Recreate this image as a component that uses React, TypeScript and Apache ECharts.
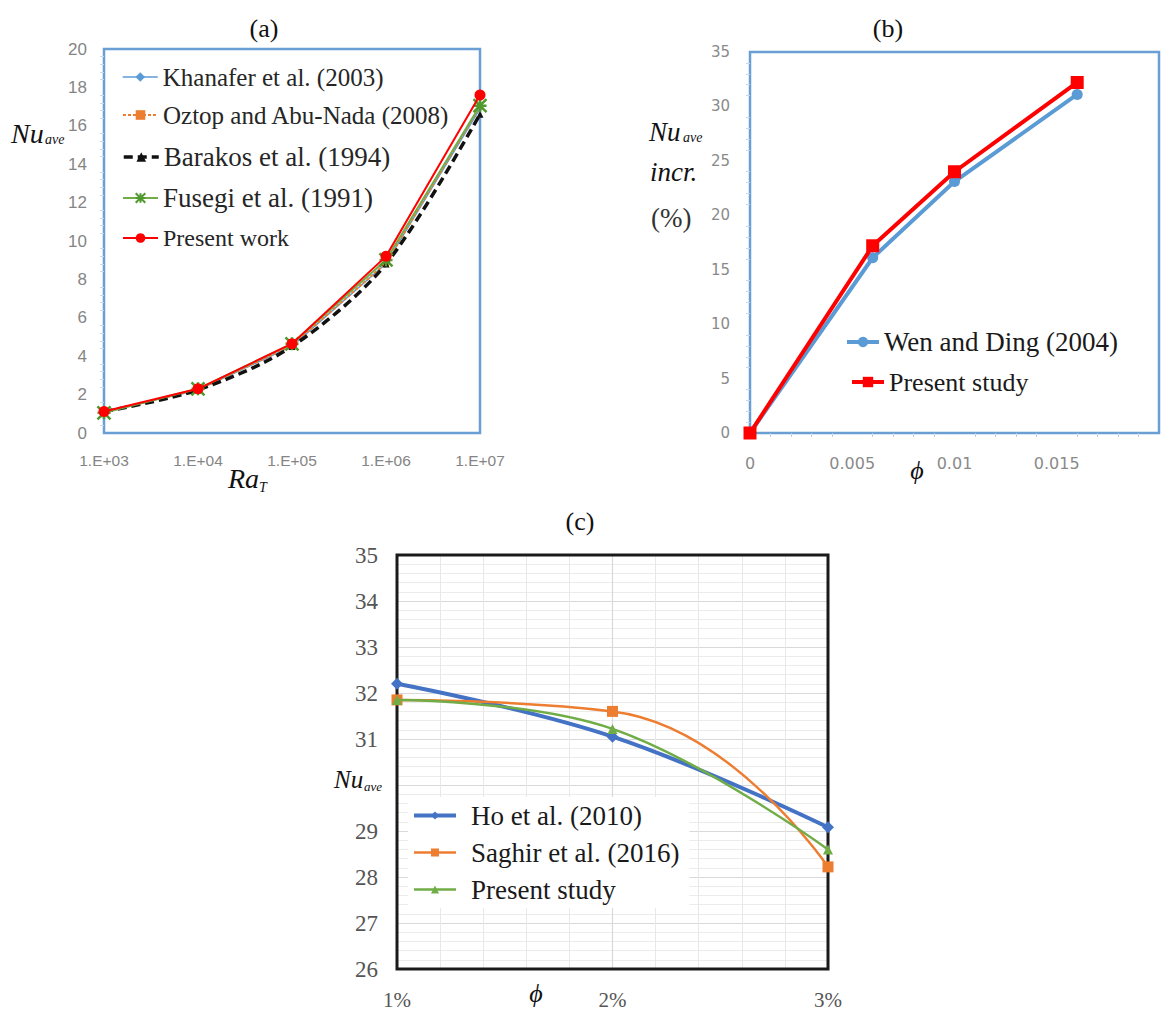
import React, { useEffect, useRef } from "react";
import * as echarts from "echarts";

// Panel (a)
const raT = [1e3, 1e4, 1e5, 1e6, 1e7];
const khanafer = [1.118, 2.245, 4.522, 8.826, 16.9];
const oztop = [1.1, 2.25, 4.55, 8.85, 17.0];
const barakos = [1.114, 2.245, 4.51, 8.806, 16.6];
const fusegi = [1.052, 2.302, 4.646, 9.012, 17.05];
const presentA = [1.12, 2.3, 4.65, 9.2, 17.6];
const namesA = [
  "Khanafer et al. (2003)",
  "Oztop and Abu-Nada (2008)",
  "Barakos et al. (1994)",
  "Fusegi et al. (1991)",
  "Present work",
];

// Panel (b)
const phiB = [0, 0.006, 0.01, 0.016];
const wenDing = [0, 16.1, 23.1, 31.1];
const presentB = [0, 17.2, 24.0, 32.2];
const namesB = ["Wen and Ding (2004)", "Present study"];

// Panel (c)
const phiC = [1, 2, 3];
const ho = [32.2, 31.05, 29.08];
const saghir = [31.85, 31.6, 28.22];
const presentC = [31.85, 31.22, 28.6];
const namesC = ["Ho et al. (2010)", "Saghir et al. (2016)", "Present study"];
const C_SUFFIX = " [c]";

const zip = (xs: number[], ys: number[]) => xs.map((x, i) => [x, ys[i]]);

const SERIF = '"Liberation Serif", "DejaVu Serif", serif';
const SANS = '"Liberation Sans", Arial, sans-serif';
const DEJAVU = '"DejaVu Sans", sans-serif';
const STAR = "path://M0 0L10 10M10 0L0 10M5 0L5 10M0 5L10 5";

function txt(text: string, x: number, y: number, size: number, italic = false, align = "center", fill = "#111") {
  return {
    type: "text",
    x,
    y,
    z: 100,
    style: {
      text,
      font: `${italic ? "italic " : ""}${size}px ${SERIF}`,
      fill,
      align,
      verticalAlign: "middle",
      textAlign: align,
      textVerticalAlign: "middle",
    },
  };
}

export default function App() {
  const ref = useRef<HTMLDivElement>(null);
  useEffect(() => {
    if (!ref.current) return;
    const chart = echarts.init(ref.current, undefined, { renderer: "svg" });
    const blue = "#6A9FD6";
    const sizesA = [25, 25, 27, 27, 24];
    const lineWA = [1.5, 2, 3.5, 2, 2];
    const legendA = namesA.map((n, i) => ({
      data: [n],
      orient: "horizontal",
      left: 122,
      top: [77, 115, 157, 198, 238][i] - sizesA[i] / 2,
      padding: 0,
      itemWidth: 35,
      itemHeight: 12,
      lineStyle: { width: lineWA[i] },
      textStyle: { fontFamily: SERIF, fontSize: sizesA[i], color: "#262626" },
    }));
    const sizesB = [27, 26];
    const legendB = namesB.map((n, i) => ({
      data: [n],
      left: [845, 850][i],
      top: [342, 382][i] - sizesB[i] / 2,
      padding: 0,
      itemWidth: 32,
      itemHeight: 13,
      lineStyle: { width: 4 },
      textStyle: { fontFamily: SERIF, fontSize: sizesB[i], color: "#1a1a1a" },
    }));
    const lineWC = [4, 2.5, 2.5];
    const legendC = {
      data: namesC.map((n, i) => ({ name: n + C_SUFFIX, lineStyle: { width: lineWC[i] } })),
      formatter: (name: string) => name.replace(C_SUFFIX, ""),
      orient: "vertical",
      left: 408,
      top: 797,
      padding: [5, 10, 5, 4],
      backgroundColor: "#ffffff",
      itemGap: 10,
      itemWidth: 42,
      itemHeight: 10,
      textStyle: { fontFamily: SERIF, fontSize: 27, color: "#1a1a1a", padding: [0, 0, 0, 10] },
    };

    const option: any = {
      animation: false,
      backgroundColor: "#ffffff",
      grid: [
        { left: 104, top: 49, width: 376, height: 384, show: true, borderColor: blue, borderWidth: 2.5 },
        { left: 750, top: 52, width: 416, height: 381, show: true, borderColor: blue, borderWidth: 2.5 },
        { left: 397, top: 555, width: 431, height: 415, show: true, borderColor: "#1a1a1a", borderWidth: 3, z: 3 },
      ],
      legend: [...legendA, ...legendB, legendC],
      xAxis: [
        {
          gridIndex: 0,
          type: "log",
          logBase: 10,
          min: 1e3,
          max: 1e7,
          axisLine: { show: false },
          axisTick: { show: false },
          splitLine: { show: false },
          axisLabel: {
            margin: 19,
            color: "#858585",
            fontFamily: SANS,
            fontSize: 15.5,
            formatter: (v: number) => "1.E+" + String(Math.round(Math.log10(v))).padStart(2, "0"),
          },
        },
        {
          gridIndex: 1,
          type: "value",
          min: 0,
          max: 0.02,
          interval: 0.005,
          axisLine: { show: false },
          axisTick: { show: false },
          minorTick: { show: true, splitNumber: 5, length: 4, lineStyle: { color: "#b8cfe8" } },
          splitLine: { show: false },
          axisLabel: {
            margin: 22,
            color: "#8a8a8a",
            fontFamily: DEJAVU,
            fontSize: 16,
            formatter: (v: number) => (v >= 0.0199 ? "" : String(Math.round(v * 1000) / 1000)),
          },
        },
        {
          gridIndex: 2,
          type: "value",
          min: 1,
          max: 3,
          interval: 1,
          axisLine: { show: false },
          axisTick: { show: false },
          splitLine: { show: true, lineStyle: { color: "#d9d9d9", width: 1.2 } },
          minorTick: { show: false, splitNumber: 5 },
          minorSplitLine: { show: true, lineStyle: { color: "#e8e8e8" } },
          axisLabel: {
            margin: 20,
            color: "#555",
            fontFamily: SERIF,
            fontSize: 21,
            formatter: (v: number) => v + "%",
          },
        },
      ],
      yAxis: [
        {
          gridIndex: 0,
          type: "value",
          min: 0,
          max: 20,
          interval: 2,
          axisLine: { show: false },
          axisTick: { show: false },
          minorTick: { show: true, splitNumber: 5, length: 4, lineStyle: { color: "#c9d7e8" } },
          splitLine: { show: false },
          axisLabel: { margin: 17, color: "#858585", fontFamily: SANS, fontSize: 17 },
        },
        {
          gridIndex: 1,
          type: "value",
          min: 0,
          max: 35,
          interval: 5,
          axisLine: { show: false },
          axisTick: { show: false },
          minorTick: { show: true, splitNumber: 5, length: 4, lineStyle: { color: "#c9d7e8" } },
          splitLine: { show: false },
          axisLabel: { margin: 20, color: "#8a8a8a", fontFamily: DEJAVU, fontSize: 15 },
        },
        {
          gridIndex: 2,
          type: "value",
          min: 26,
          max: 35,
          interval: 1,
          axisLine: { show: false },
          axisTick: { show: false },
          splitLine: { show: true, lineStyle: { color: "#d9d9d9", width: 1.2 } },
          minorTick: { show: false, splitNumber: 5 },
          minorSplitLine: { show: true, lineStyle: { color: "#ececec" } },
          axisLabel: {
            margin: 19,
            color: "#555",
            fontFamily: SERIF,
            fontSize: 23,
            formatter: (v: number) => (v === 30 ? "" : String(v)),
          },
        },
      ],
      series: [
        {
          name: namesA[0], type: "line", xAxisIndex: 0, yAxisIndex: 0, data: zip(raT, khanafer),
          symbol: "diamond", symbolSize: 6, color: "#5B9BD5", lineStyle: { width: 1.5 },
        },
        {
          name: namesA[1], type: "line", xAxisIndex: 0, yAxisIndex: 0, data: zip(raT, oztop),
          symbol: "rect", symbolSize: 6, color: "#ED7D31", lineStyle: { width: 2, type: [3, 2] },
        },
        {
          name: namesA[2], type: "line", xAxisIndex: 0, yAxisIndex: 0, data: zip(raT, barakos), smooth: 0.3,
          symbol: "triangle", symbolSize: 7, color: "#111111", lineStyle: { width: 3.5, type: [9, 5] },
        },
        {
          name: namesA[3], type: "line", xAxisIndex: 0, yAxisIndex: 0, data: zip(raT, fusegi),
          symbol: STAR, symbolSize: 13, color: "#4E9A2E",
          itemStyle: { color: "#4E9A2E", borderColor: "#4E9A2E", borderWidth: 2.5 },
          lineStyle: { width: 2, color: "#70AD47" },
        },
        {
          name: namesA[4], type: "line", xAxisIndex: 0, yAxisIndex: 0, data: zip(raT, presentA),
          symbol: "circle", symbolSize: 11, color: "#FF0000", lineStyle: { width: 2 }, z: 5,
        },
        {
          name: namesB[0], type: "line", xAxisIndex: 1, yAxisIndex: 1, data: zip(phiB, wenDing),
          symbol: "circle", symbolSize: 11, color: "#5B9BD5", lineStyle: { width: 4 },
        },
        {
          name: namesB[1], type: "line", xAxisIndex: 1, yAxisIndex: 1, data: zip(phiB, presentB),
          symbol: "rect", symbolSize: 13, color: "#FF0000", lineStyle: { width: 4 }, z: 5,
        },
        {
          name: namesC[0] + C_SUFFIX, type: "line", xAxisIndex: 2, yAxisIndex: 2, data: zip(phiC, ho), smooth: 0.4,
          symbol: "diamond", symbolSize: 12, color: "#4472C4", lineStyle: { width: 4 }, z: 4,
        },
        {
          name: namesC[1] + C_SUFFIX, type: "line", xAxisIndex: 2, yAxisIndex: 2, data: zip(phiC, saghir), smooth: 0.5,
          symbol: "rect", symbolSize: 11, color: "#ED7D31", lineStyle: { width: 2.5 }, z: 4,
        },
        {
          name: namesC[2] + C_SUFFIX, type: "line", xAxisIndex: 2, yAxisIndex: 2, data: zip(phiC, presentC), smooth: 0.4,
          symbol: "triangle", symbolSize: 10, color: "#70AD47", lineStyle: { width: 2.5 }, z: 5,
        },
      ],
      graphic: [
        txt("(a)", 264, 28, 26),
        txt("(b)", 888, 28, 26),
        txt("(c)", 580, 521, 26),
        // Panel a labels
        txt("Nu", 11, 133, 28, true, "left"),
        txt("ave", 45, 139, 14, true, "left"),
        txt("Ra", 228, 478, 28, true, "left"),
        txt("T", 259, 487, 14, true, "left"),
        // Panel b labels
        txt("Nu", 649, 132, 27, true, "left"),
        txt("ave", 683, 137, 14, true, "left"),
        txt("incr.", 650, 172, 27, true, "left"),
        txt("(%)", 651, 218, 27, false, "left", "#333"),
        txt("ϕ", 917, 470, 26, true),
        // Panel c labels
        txt("Nu", 334, 779, 25, true, "left"),
        txt("ave", 364, 786, 13, true, "left"),
        txt("ϕ", 536, 993, 26, true),
      ],
    };
    chart.setOption(option);
    return () => chart.dispose();
  }, []);
  return (
    <div
      ref={ref}
      style={{ position: "fixed", left: 0, top: 0, width: 1162, height: 1010, background: "#fff" }}
    />
  );
}
